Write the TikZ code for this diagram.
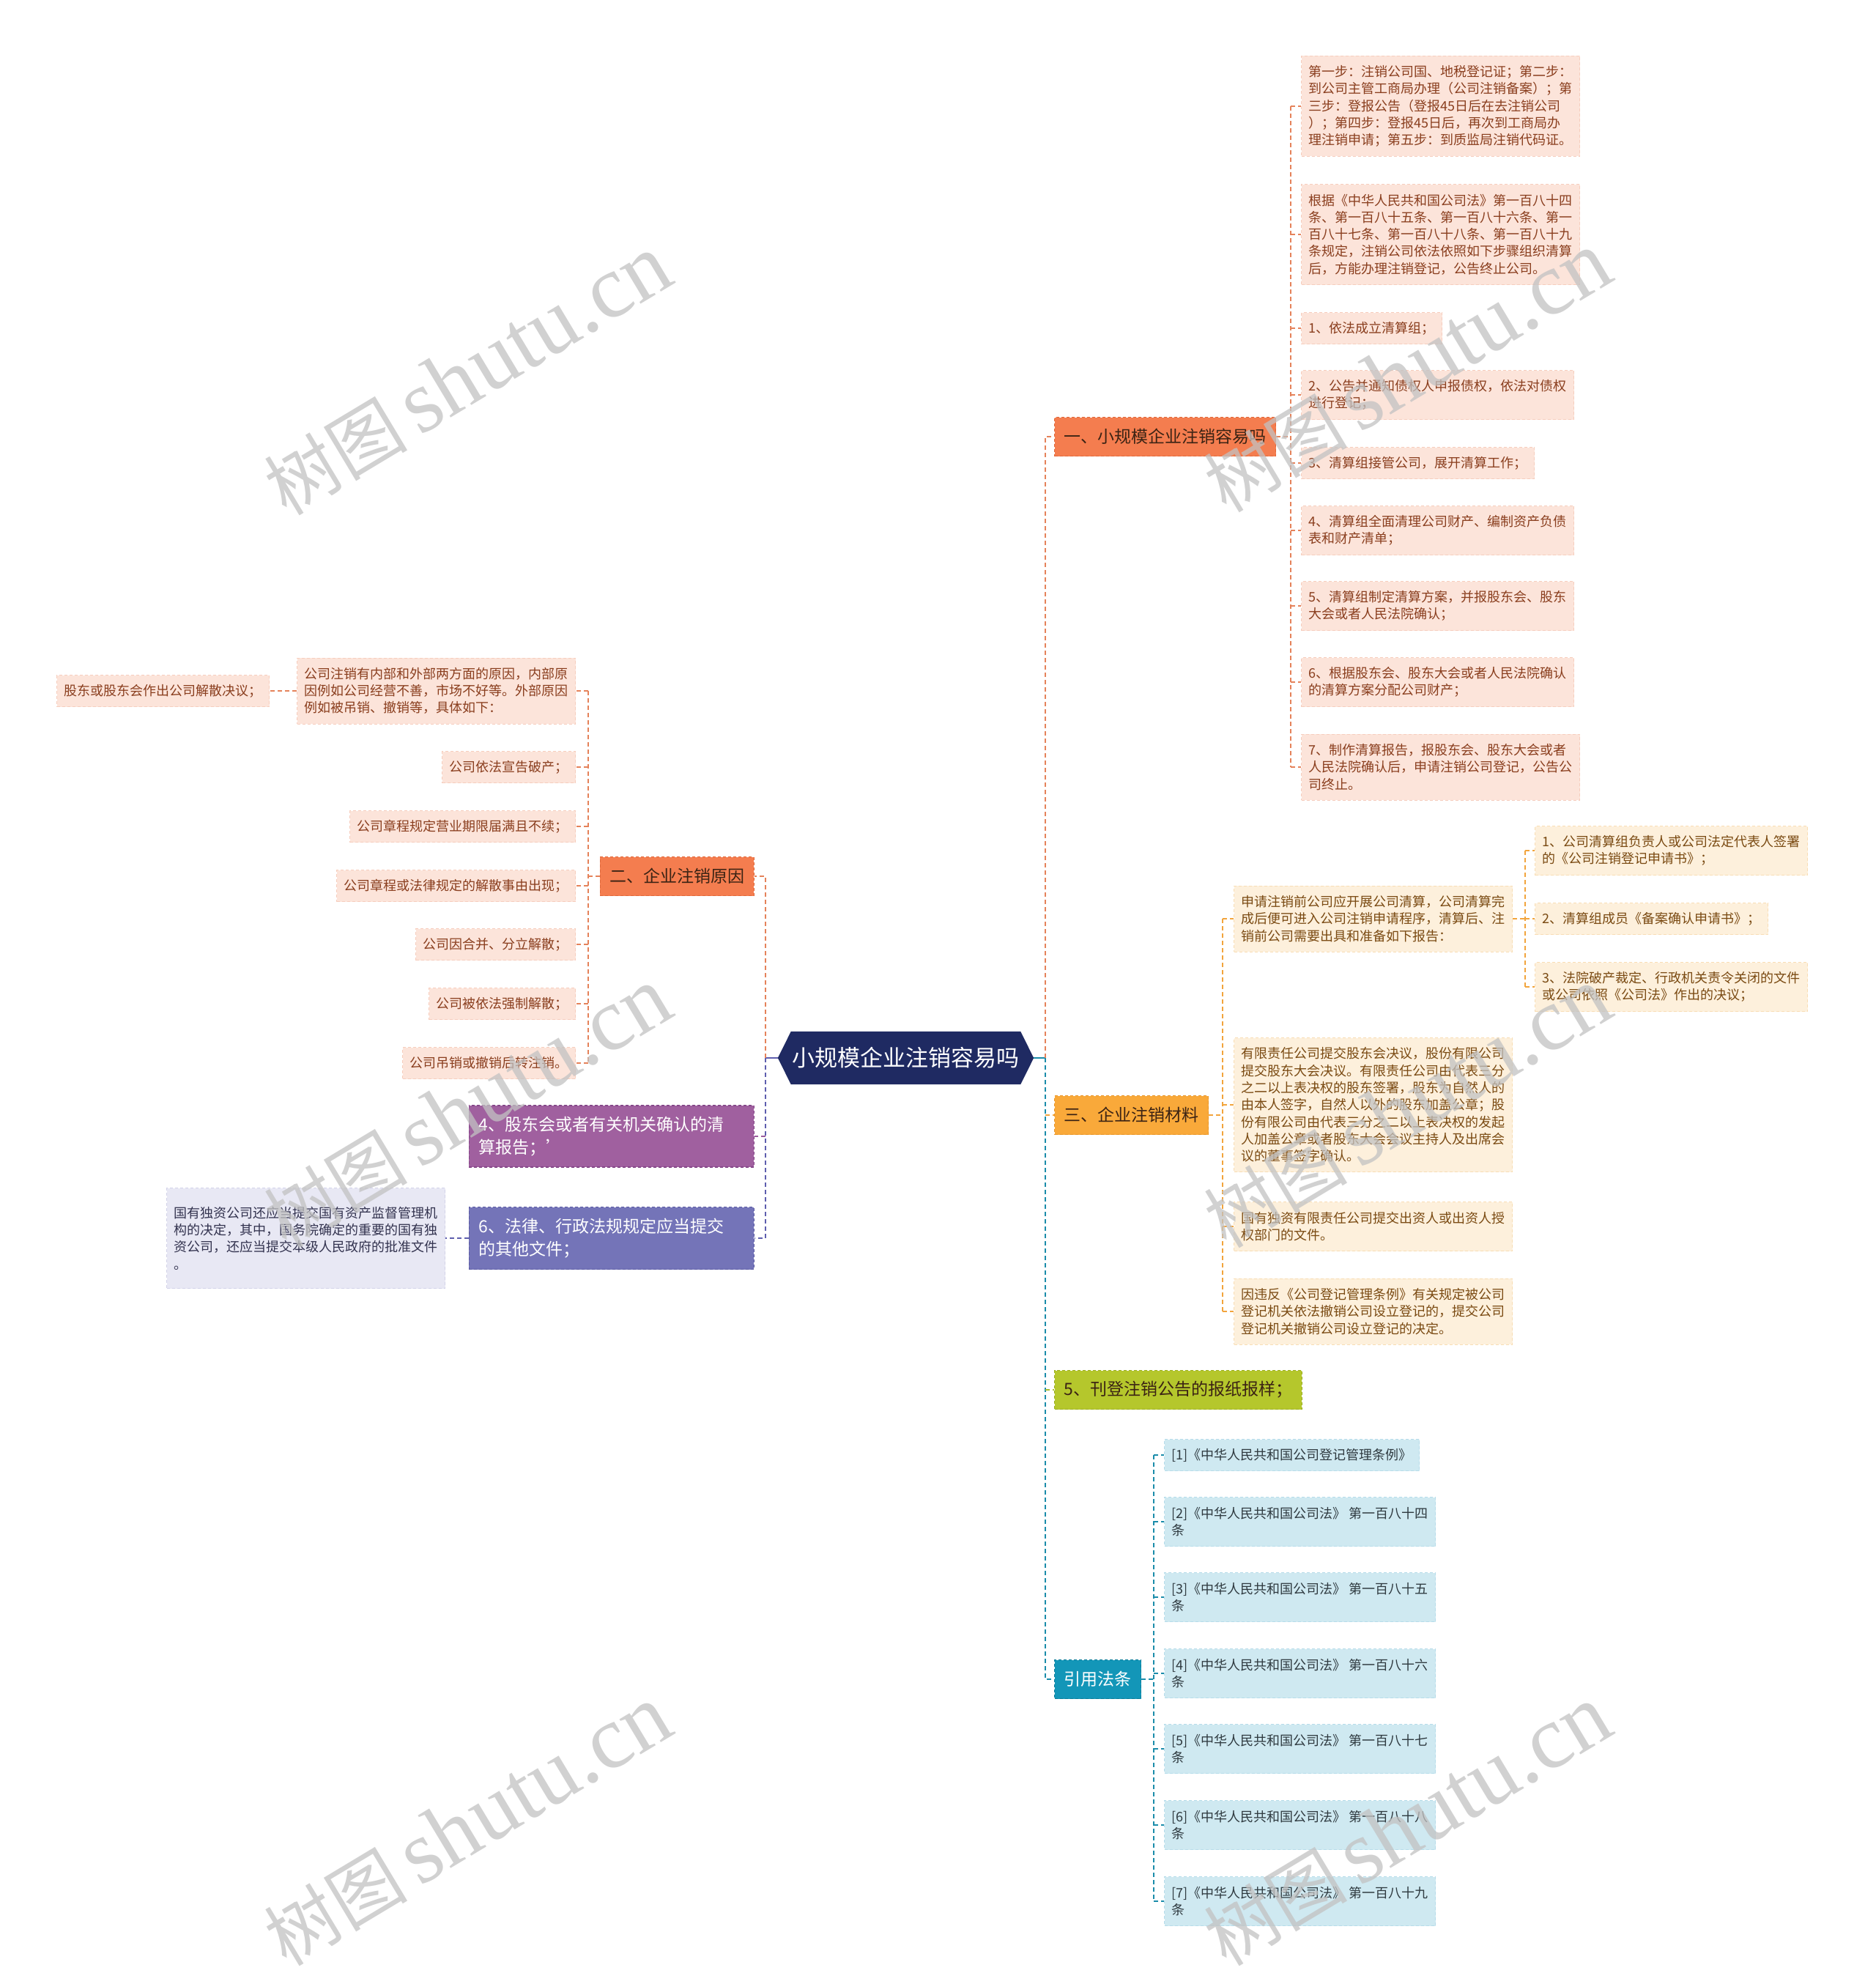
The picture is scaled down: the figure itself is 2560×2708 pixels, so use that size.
\documentclass[tikz,border=0pt]{standalone}
\usepackage{fontspec}
\setmainfont{Noto Sans CJK SC}
\newfontfamily\wmserif{Liberation Serif}
\usetikzlibrary{backgrounds}
\definecolor{navy}{HTML}{1F2A62}
\definecolor{bRed}{HTML}{F47D4F}
\definecolor{bRedD}{HTML}{E0683A}
\definecolor{bOrg}{HTML}{F9A93A}
\definecolor{bOrgD}{HTML}{E8962A}
\definecolor{bGrn}{HTML}{B5C72C}
\definecolor{bGrnD}{HTML}{9AAE20}
\definecolor{bTeal}{HTML}{1396B8}
\definecolor{bTealD}{HTML}{0E7D9A}
\definecolor{bPur}{HTML}{A0609F}
\definecolor{bPurD}{HTML}{86488A}
\definecolor{bBlu}{HTML}{7474B8}
\definecolor{bBluD}{HTML}{5C5CA4}
\definecolor{pkF}{HTML}{FCE4DA}
\definecolor{pkD}{HTML}{F6CDBD}
\definecolor{pkT}{HTML}{8A3E1E}
\definecolor{ywF}{HTML}{FDF0DC}
\definecolor{ywD}{HTML}{F8DDB4}
\definecolor{ywT}{HTML}{7A4A12}
\definecolor{blF}{HTML}{CFE9F1}
\definecolor{blD}{HTML}{B6DCEA}
\definecolor{blT}{HTML}{2F3A40}
\definecolor{lvF}{HTML}{E8E8F4}
\definecolor{lvD}{HTML}{D2D2E8}
\definecolor{lvT}{HTML}{33334F}
\definecolor{lnRed}{HTML}{E5825A}
\definecolor{lnOrg}{HTML}{F2A43C}
\definecolor{lnGrn}{HTML}{A9BD2E}
\definecolor{lnTeal}{HTML}{1A8CAA}
\definecolor{lnPur}{HTML}{9A5C9E}
\definecolor{lnBlu}{HTML}{5E5EAE}
\definecolor{darkT}{HTML}{3B2314}
\tikzset{
  box/.style={align=left, inner xsep=10pt, inner ysep=0pt, line width=1pt, dash pattern=on 4pt off 3pt},
  small/.style={font=\fontsize{18}{23.3}\selectfont},
  pk/.style={box, small, fill=pkF, draw=pkD, text=pkT},
  yw/.style={box, small, fill=ywF, draw=ywD, text=ywT},
  bl/.style={box, small, fill=blF, draw=blD, text=blT},
  lv/.style={box, small, fill=lvF, draw=lvD, text=lvT},
  rowsA/.style={minimum height=43pt},
  rowsB/.style={minimum height=67pt},
  rowsC/.style={minimum height=90pt},
  rowsE/.style={minimum height=137pt},
  rowsG/.style={minimum height=183pt},
  branch/.style={box, inner xsep=13pt, minimum height=53pt, line width=1.3pt, font=\fontsize{23}{30}\selectfont},
  conn/.style={line width=2pt, dash pattern=on 6pt off 4pt},
  wm/.style={text=black!24, opacity=0.75, inner sep=0pt},
}
\begin{document}
\begin{tikzpicture}[x=1pt,y=-1pt]
\useasboundingbox (0,0) rectangle (2560,2708);

% root
\node[inner sep=0pt, minimum width=313pt, minimum height=72pt, text=white, font=\fontsize{31}{36}\selectfont] (root) at (1236.5,1444) {小规模企业注销容易吗};
\begin{scope}[on background layer]
\fill[white] (0,0) rectangle (2560,2708);
\fill[navy] (root.north west) -- (root.north east) -- ([xshift=18pt]root.east) -- (root.south east) -- (root.south west) -- ([xshift=-18pt]root.west) -- cycle;
\end{scope}
\coordinate (rootR) at ([xshift=18pt]root.east);
\coordinate (rootL) at ([xshift=-18pt]root.west);

% right branches
\node[branch, anchor=west, fill=bRed, draw=bRedD, text=darkT] (b1) at (1439,596) {一、小规模企业注销容易吗};
\node[branch, anchor=west, fill=bOrg, draw=bOrgD, text=darkT] (b3) at (1439,1522) {三、企业注销材料};
\node[branch, anchor=west, fill=bGrn, draw=bGrnD, text=darkT] (b5) at (1439,1897) {5、刊登注销公告的报纸报样；};
\node[branch, anchor=west, fill=bTeal, draw=bTealD, text=white] (cite) at (1439,2292) {引用法条};

% branch 1 children
\node[pk, rowsE, anchor=west] (c1a) at (1776,145) {第一步：注销公司国、地税登记证；第二步：\\到公司主管工商局办理（公司注销备案）；第\\三步：登报公告（登报45日后在去注销公司\\）；第四步：登报45日后，再次到工商局办\\理注销申请；第五步：到质监局注销代码证。};
\node[pk, rowsE, anchor=west] (c1b) at (1776,320) {根据《中华人民共和国公司法》第一百八十四\\条、第一百八十五条、第一百八十六条、第一\\百八十七条、第一百八十八条、第一百八十九\\条规定，注销公司依法依照如下步骤组织清算\\后，方能办理注销登记，公告终止公司。};
\node[pk, rowsA, anchor=west] (c1c) at (1776,448) {1、依法成立清算组；};
\node[pk, rowsB, anchor=west] (c1d) at (1776,539) {2、公告并通知债权人申报债权，依法对债权\\进行登记；};
\node[pk, rowsA, anchor=west] (c1e) at (1776,632) {3、清算组接管公司，展开清算工作；};
\node[pk, rowsB, anchor=west] (c1f) at (1776,724) {4、清算组全面清理公司财产、编制资产负债\\表和财产清单；};
\node[pk, rowsB, anchor=west] (c1g) at (1776,827) {5、清算组制定清算方案，并报股东会、股东\\大会或者人民法院确认；};
\node[pk, rowsB, anchor=west] (c1h) at (1776,931) {6、根据股东会、股东大会或者人民法院确认\\的清算方案分配公司财产；};
\node[pk, rowsC, anchor=west] (c1i) at (1776,1047) {7、制作清算报告，报股东会、股东大会或者\\人民法院确认后，申请注销公司登记，公告公\\司终止。};

% branch 3 children
\node[yw, rowsC, anchor=west] (m1) at (1684,1254) {申请注销前公司应开展公司清算，公司清算完\\成后便可进入公司注销申请程序，清算后、注\\销前公司需要出具和准备如下报告：};
\node[yw, rowsB, anchor=west] (m1a) at (2095,1161) {1、公司清算组负责人或公司法定代表人签署\\的《公司注销登记申请书》；};
\node[yw, rowsA, anchor=west] (m1b) at (2095,1254) {2、清算组成员《备案确认申请书》；};
\node[yw, rowsB, anchor=west] (m1c) at (2095,1347) {3、法院破产裁定、行政机关责令关闭的文件\\或公司依照《公司法》作出的决议；};
\node[yw, rowsG, anchor=west] (m2) at (1684,1508) {有限责任公司提交股东会决议，股份有限公司\\提交股东大会决议。有限责任公司由代表三分\\之二以上表决权的股东签署，股东为自然人的\\由本人签字，自然人以外的股东加盖公章；股\\份有限公司由代表三分之二以上表决权的发起\\人加盖公章或者股东大会会议主持人及出席会\\议的董事签字确认。};
\node[yw, rowsB, anchor=west] (m3) at (1684,1674) {国有独资有限责任公司提交出资人或出资人授\\权部门的文件。};
\node[yw, rowsC, anchor=west] (m4) at (1684,1790) {因违反《公司登记管理条例》有关规定被公司\\登记机关依法撤销公司设立登记的，提交公司\\登记机关撤销公司设立登记的决定。};

% citations
\node[bl, rowsA, anchor=west] (r1) at (1589,1986) {[1]《中华人民共和国公司登记管理条例》};
\node[bl, rowsB, anchor=west] (r2) at (1589,2077) {[2]《中华人民共和国公司法》 第一百八十四\\条};
\node[bl, rowsB, anchor=west] (r3) at (1589,2180) {[3]《中华人民共和国公司法》 第一百八十五\\条};
\node[bl, rowsB, anchor=west] (r4) at (1589,2284) {[4]《中华人民共和国公司法》 第一百八十六\\条};
\node[bl, rowsB, anchor=west] (r5) at (1589,2387) {[5]《中华人民共和国公司法》 第一百八十七\\条};
\node[bl, rowsB, anchor=west] (r6) at (1589,2491) {[6]《中华人民共和国公司法》 第一百八十八\\条};
\node[bl, rowsB, anchor=west] (r7) at (1589,2595) {[7]《中华人民共和国公司法》 第一百八十九\\条};

% left branches
\node[branch, anchor=east, fill=bRed, draw=bRedD, text=darkT] (b2) at (1030,1196) {二、企业注销原因};
\node[branch, anchor=east, fill=bPur, draw=bPurD, text=white, text width=363pt, minimum height=84pt, font=\fontsize{23}{31}\selectfont] (b4) at (1030,1551) {4、股东会或者有关机关确认的清\\算报告；’};
\node[branch, anchor=east, fill=bBlu, draw=bBluD, text=white, text width=363pt, minimum height=85pt, font=\fontsize{23}{31}\selectfont] (b6) at (1030,1690) {6、法律、行政法规规定应当提交\\的其他文件；};

\node[pk, rowsC, anchor=east] (l1) at (786,943) {公司注销有内部和外部两方面的原因，内部原\\因例如公司经营不善，市场不好等。外部原因\\例如被吊销、撤销等，具体如下：};
\node[pk, rowsA, anchor=east] (l1a) at (368,943) {股东或股东会作出公司解散决议；};
\node[pk, rowsA, anchor=east] (l2) at (786,1047) {公司依法宣告破产；};
\node[pk, rowsA, anchor=east] (l3) at (786,1128) {公司章程规定营业期限届满且不续；};
\node[pk, rowsA, anchor=east] (l4) at (786,1209) {公司章程或法律规定的解散事由出现；};
\node[pk, rowsA, anchor=east] (l5) at (786,1289) {公司因合并、分立解散；};
\node[pk, rowsA, anchor=east] (l6) at (786,1370) {公司被依法强制解散；};
\node[pk, rowsA, anchor=east] (l7) at (786,1451) {公司吊销或撤销后转注销。};
\node[lv, rowsE, anchor=east] (lav) at (608,1690) {国有独资公司还应当提交国有资产监督管理机\\构的决定，其中，国务院确定的重要的国有独\\资公司，还应当提交本级人民政府的批准文件\\。};

% spines
\coordinate (sR) at (1427,1444);
\coordinate (sL) at (1045,1444);
\coordinate (s1) at (1762,596);
\coordinate (s3) at (1669,1522);
\coordinate (sm) at (2082,1254);
\coordinate (sc) at (1575,2292);
\coordinate (s2) at (803,1196);

% root connectors
\draw[lnTeal, line width=2pt] (rootR) -- (sR);
\draw[lnRed, conn] (sR) -- (sR |- b1.west) -- (b1.west);
\draw[lnTeal, conn] (sR) -- (sR |- cite.west) -- (cite.west);
\draw[lnOrg, conn] (sR |- b3.west) -- (b3.west);
\draw[lnGrn, conn] (sR |- b5.west) -- (b5.west);
\draw[lnBlu, line width=2pt] (rootL) -- (sL);
\draw[lnRed, conn] (sL) -- (sL |- b2.east) -- (b2.east);
\draw[lnBlu, conn] (sL) -- (sL |- b6.east) -- (b6.east);
\draw[lnPur, conn] (sL |- b4.east) -- (b4.east);

% branch 1
\draw[lnRed, conn] (b1.east) -- (s1);
\draw[lnRed, conn] (s1 |- c1a.west) -- (s1 |- c1i.west);
\foreach \n in {c1a,c1b,c1c,c1d,c1e,c1f,c1g,c1h,c1i}
  \draw[lnRed, conn] (s1 |- \n.west) -- (\n.west);

% branch 3
\draw[lnOrg, conn] (b3.east) -- (s3);
\draw[lnOrg, conn] (s3 |- m1.west) -- (s3 |- m4.west);
\foreach \n in {m1,m2,m3,m4}
  \draw[lnOrg, conn] (s3 |- \n.west) -- (\n.west);
\draw[lnOrg, conn] (m1.east) -- (sm);
\draw[lnOrg, conn] (sm |- m1a.west) -- (sm |- m1c.west);
\foreach \n in {m1a,m1b,m1c}
  \draw[lnOrg, conn] (sm |- \n.west) -- (\n.west);

% citations
\draw[lnTeal, conn] (cite.east) -- (sc);
\draw[lnTeal, conn] (sc |- r1.west) -- (sc |- r7.west);
\foreach \n in {r1,r2,r3,r4,r5,r6,r7}
  \draw[lnTeal, conn] (sc |- \n.west) -- (\n.west);

% branch 2
\draw[lnRed, conn] (b2.west) -- (s2);
\draw[lnRed, conn] (s2 |- l1.east) -- (s2 |- l7.east);
\foreach \n in {l1,l2,l3,l4,l5,l6,l7}
  \draw[lnRed, conn] (s2 |- \n.east) -- (\n.east);
\draw[lnRed, conn] (l1.west) -- (l1a.east);
\draw[lnBlu, conn] (b6.west) -- (lav.east);

% watermarks
\foreach \p/\q in {638/512, 1921/508, 638/1512, 1921/1512, 638/2492, 1921/2492}
  \node[wm, rotate=31] (wm-\p-\q) at (\p,\q) {\fontsize{98}{103}\selectfont 树图\,{\wmserif\fontsize{122}{122}\selectfont shutu.cn}};
\end{tikzpicture}
\end{document}
